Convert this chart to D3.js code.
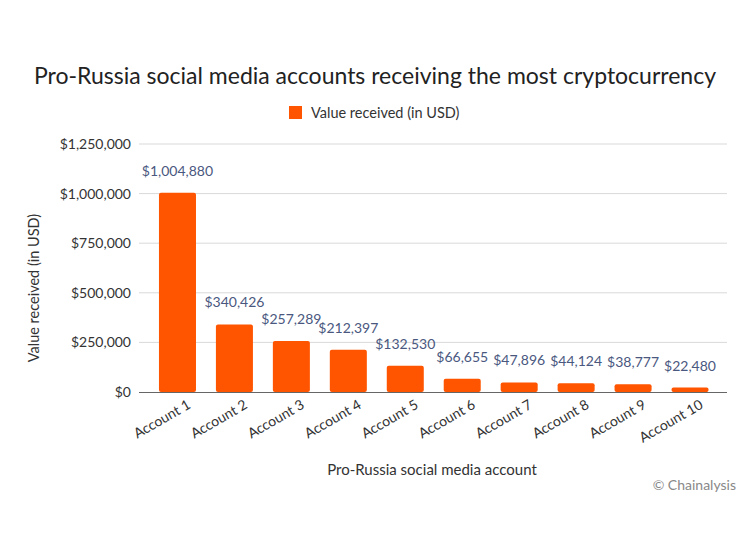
<!DOCTYPE html>
<html><head><meta charset="utf-8">
<script src="https://cdn.jsdelivr.net/npm/d3@7"></script>
<style>body{margin:0;background:#fff}svg{display:block}</style>
</head><body>
<script>
const categories = ["Account 1","Account 2","Account 3","Account 4","Account 5","Account 6","Account 7","Account 8","Account 9","Account 10"];
const values = [1004880, 340426, 257289, 212397, 132530, 66655, 47896, 44124, 38777, 22480];
const yTicks = [0, 250000, 500000, 750000, 1000000, 1250000];
const seriesName = "Value received (in USD)";

(function () {
const W = 750, H = 540;
const font = "Lato, 'Open Sans', sans-serif";
const svg = d3.select("body").append("svg").attr("width", W).attr("height", H).style("font-family", font);

const mLeft = 139, mRight = 727, mTop = 144, mBottom = 392;
const x = d3.scaleBand().domain(categories).range([149, 718.5]).paddingInner(0.35).paddingOuter(0.175);
const y = d3.scaleLinear().domain([0, 1250000]).range([mBottom, mTop]);
const fmt = d => "$" + d3.format(",")(d);

// gridlines
svg.append("g").selectAll("line").data(yTicks.slice(1)).join("line")
  .attr("x1", mLeft).attr("x2", mRight).attr("y1", d => y(d)).attr("y2", d => y(d))
  .attr("stroke", "#d9d9d9").attr("stroke-width", 1);

// y axis labels
const ya = svg.append("g").attr("transform", `translate(${mLeft},0)`)
  .call(d3.axisLeft(y).tickValues(yTicks).tickFormat(fmt).tickSize(0).tickPadding(8));
ya.select(".domain").remove();
ya.selectAll("text").attr("font-size", 14).attr("fill", "#333").style("font-family", font);

// bars
svg.append("g").selectAll("rect").data(values).join("rect")
  .attr("x", (d, i) => x(categories[i])).attr("width", x.bandwidth())
  .attr("y", d => y(d)).attr("height", d => y(0) - y(d))
  .attr("rx", 2).attr("fill", "#ff5500");

// baseline
svg.append("line").attr("x1", mLeft).attr("x2", mRight).attr("y1", y(0) + 0.5).attr("y2", y(0) + 0.5)
  .attr("stroke", "#666").attr("stroke-width", 1.2);

// value labels
svg.append("g").selectAll("text").data(values).join("text")
  .attr("x", (d, i) => x(categories[i]) + x.bandwidth() / 2)
  .attr("y", d => y(d) - 17)
  .attr("text-anchor", "middle").attr("font-size", 14).attr("fill", "#4a5880")
  .text(fmt);

// x axis labels
const xa = svg.append("g").attr("transform", `translate(0,${mBottom})`)
  .call(d3.axisBottom(x).tickSize(0).tickPadding(8));
xa.select(".domain").remove();
xa.selectAll("text").attr("font-size", 14).attr("fill", "#333").style("font-family", font)
  .attr("text-anchor", "end").attr("transform", "translate(5,0) rotate(-30)");

// title
svg.append("text").attr("x", 375).attr("y", 84).attr("text-anchor", "middle")
  .attr("font-size", 23).attr("fill", "#222").text("Pro-Russia social media accounts receiving the most cryptocurrency");

// legend
svg.append("rect").attr("x", 289).attr("y", 106).attr("width", 13).attr("height", 13).attr("fill", "#ff5500");
svg.append("text").attr("x", 311).attr("y", 118).attr("font-size", 14.5).attr("fill", "#333").text(seriesName);

// axis titles
svg.append("text").attr("x", 432).attr("y", 475).attr("text-anchor", "middle")
  .attr("font-size", 15).attr("fill", "#333").text("Pro-Russia social media account");
svg.append("text").attr("transform", `translate(39,288) rotate(-90)`)
  .attr("text-anchor", "middle").attr("font-size", 14.5).attr("fill", "#333").text("Value received (in USD)");

// source
svg.append("text").attr("x", 736).attr("y", 490).attr("text-anchor", "end")
  .attr("font-size", 14).attr("fill", "#888").text("© Chainalysis");
})();
</script>
</body></html>
